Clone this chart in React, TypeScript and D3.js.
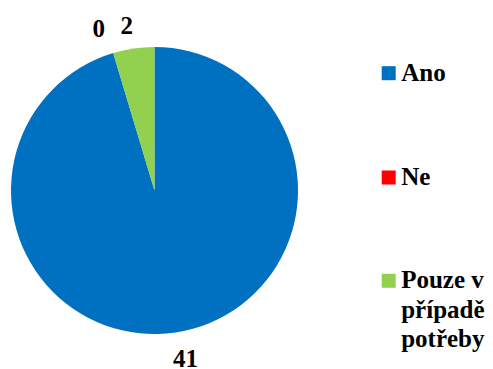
import React from "react";
import * as d3 from "d3";

const categories = ["Ano", "Ne", "Pouze v případě potřeby"];
const legendLines = [["Ano"], ["Ne"], ["Pouze v", "případě", "potřeby"]];
const values = [41, 0, 2];
const colors = ["#0070C0", "#FF0000", "#92D050"];

const W = 493;
const H = 369;
const cx = 154.5;
const cy = 190.5;
const R = 143.5;
const FONT = '"Liberation Serif"';

// label placement nudges (layout only): radius, angle shift (rad), dx
const labelRadius = [170, 171, 167];
const labelAngShift = [0, -0.04, 0];
const labelDx = [6.3, 0, -3.4];

export default function App() {
  const pie = d3.pie<number>().sort(null).value((d) => d).startAngle(0).endAngle(2 * Math.PI);
  const arcs = pie(values);
  const arcGen = d3.arc<d3.PieArcDatum<number>>().innerRadius(0).outerRadius(R);

  const labelPos = arcs.map((a, i) => {
    const ang = (a.startAngle + a.endAngle) / 2 + labelAngShift[i];
    const r = labelRadius[i];
    return { x: cx + r * Math.sin(ang) + labelDx[i], y: cy - r * Math.cos(ang) };
  });

  const legendX = 381.7;
  const legendBaselines = [80.7, 185, 288.3];
  const lineH = 29.5;
  const textStyle: React.CSSProperties = { fontFamily: FONT, fontWeight: 700, fontSize: "25px" };

  return (
    <svg
      width={W}
      height={H}
      style={{ position: "absolute", left: 0, top: 0, background: "#fff" }}
    >
      <g>
        {arcs.map((a, i) => (
          <path key={i} d={arcGen(a) || ""} transform={`translate(${cx},${cy})`} fill={colors[i]} />
        ))}
      </g>
      <g fill="#000">
        {arcs.map((a, i) => (
          <text key={i} style={textStyle} x={labelPos[i].x} y={labelPos[i].y + 8.5} textAnchor="middle">
            {values[i]}
          </text>
        ))}
      </g>
      <g fill="#000">
        {categories.map((c, i) => (
          <g key={c}>
            <rect x={legendX} y={legendBaselines[i] - 14.5} width={14} height={14} fill={colors[i]} />
            <text style={textStyle} x={legendX + 19.5} y={legendBaselines[i]}>
              {legendLines[i].map((ln, j) => (
                <tspan key={j} x={legendX + 19.5} y={legendBaselines[i] + j * lineH}>
                  {ln}
                </tspan>
              ))}
            </text>
          </g>
        ))}
      </g>
    </svg>
  );
}
